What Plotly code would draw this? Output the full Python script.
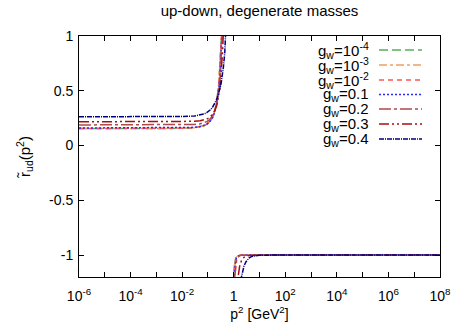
import plotly.graph_objects as go

# ---------------- data ----------------
series_labels = ["g<sub>w</sub>=10<sup>-4</sup>", "g<sub>w</sub>=10<sup>-3</sup>",
                 "g<sub>w</sub>=10<sup>-2</sup>", "g<sub>w</sub>=0.1",
                 "g<sub>w</sub>=0.2", "g<sub>w</sub>=0.3", "g<sub>w</sub>=0.4"]

# branch below the pole (p^2 in GeV^2)
p2_low = [1e-6, 1e-3, 0.01, 0.03, 0.05, 0.07, 0.09, 0.11, 0.13, 0.15, 0.17, 0.19,
          0.21, 0.23, 0.25, 0.27, 0.29, 0.31, 0.33, 0.35, 0.37, 0.40, 0.45, 0.50, 0.55]
# branch above the pole
p2_high = [0.9, 0.95, 1.0, 1.05, 1.1, 1.2, 1.3, 1.4, 1.5, 1.7, 2.0, 2.5, 3, 4, 5, 7,
           10, 30, 100, 1e3, 1e4, 1e6, 1e8]

r_low_g1e4 = [0.155, 0.155, 0.157, 0.162, 0.170, 0.180, 0.193, 0.210, 0.232, 0.258, 0.29, 0.33,
              0.38, 0.44, 0.51, 0.59, 0.69, 0.80, 0.93, 1.08, 1.26, 1.6, 2.2, 3.0, 4.0]
r_low_g1e3 = [0.155, 0.155, 0.157, 0.162, 0.170, 0.180, 0.193, 0.210, 0.232, 0.258, 0.29, 0.33,
              0.38, 0.44, 0.51, 0.59, 0.69, 0.80, 0.93, 1.08, 1.26, 1.6, 2.2, 3.0, 4.0]
r_low_g1e2 = [0.156, 0.156, 0.158, 0.163, 0.171, 0.181, 0.194, 0.211, 0.232, 0.258, 0.29, 0.33,
              0.38, 0.44, 0.51, 0.59, 0.69, 0.80, 0.93, 1.08, 1.26, 1.6, 2.2, 3.0, 4.0]
r_low_g01 = [0.160, 0.160, 0.162, 0.166, 0.173, 0.182, 0.194, 0.209, 0.229, 0.252, 0.28, 0.315,
             0.36, 0.41, 0.47, 0.54, 0.63, 0.73, 0.85, 0.98, 1.14, 1.45, 2.0, 2.8, 3.8]
r_low_g02 = [0.188, 0.188, 0.189, 0.193, 0.199, 0.207, 0.218, 0.232, 0.250, 0.270, 0.295, 0.325,
             0.36, 0.405, 0.46, 0.52, 0.59, 0.68, 0.78, 0.90, 1.04, 1.30, 1.8, 2.5, 3.5]
r_low_g03 = [0.217, 0.217, 0.218, 0.221, 0.226, 0.233, 0.242, 0.253, 0.267, 0.283, 0.302, 0.325,
             0.352, 0.385, 0.425, 0.47, 0.525, 0.59, 0.665, 0.755, 0.86, 1.05, 1.45, 2.0, 3.0]
r_low_g04 = [0.263, 0.263, 0.265, 0.270, 0.278, 0.288, 0.300, 0.314, 0.330, 0.348, 0.368, 0.39,
             0.413, 0.437, 0.462, 0.488, 0.515, 0.545, 0.578, 0.615, 0.655, 0.72, 0.85, 1.02, 1.3]

r_high_g1e4 = [-3.0, -1.6, -1.2, -1.11, -1.065, -1.03, -1.016, -1.009, -1.005, -1.002, -1.001, -1.0,
               -1.0, -1.0, -1.0, -1.0, -1.0, -1.0, -1.0, -1.0, -1.0, -1.0, -1.0]
r_high_g1e3 = [-3.0, -1.6, -1.2, -1.11, -1.065, -1.03, -1.016, -1.009, -1.005, -1.002, -1.001, -1.0,
               -1.0, -1.0, -1.0, -1.0, -1.0, -1.0, -1.0, -1.0, -1.0, -1.0, -1.0]
r_high_g1e2 = [-3.2, -1.65, -1.22, -1.12, -1.07, -1.032, -1.017, -1.009, -1.005, -1.002, -1.001, -1.0,
               -1.0, -1.0, -1.0, -1.0, -1.0, -1.0, -1.0, -1.0, -1.0, -1.0, -1.0]
r_high_g01 = [-4.0, -2.0, -1.3, -1.19, -1.10, -1.045, -1.024, -1.013, -1.008, -1.003, -1.001, -1.0,
              -1.0, -1.0, -1.0, -1.0, -1.0, -1.0, -1.0, -1.0, -1.0, -1.0, -1.0]
r_high_g02 = [-6.0, -3.0, -1.7, -1.35, -1.2, -1.085, -1.045, -1.025, -1.015, -1.006, -1.002, -1.001,
              -1.0, -1.0, -1.0, -1.0, -1.0, -1.0, -1.0, -1.0, -1.0, -1.0, -1.0]
r_high_g03 = [-10.0, -8.0, -5.0, -3.0, -2.2, -1.6, -1.35, -1.25, -1.19, -1.10, -1.05, -1.02,
              -1.01, -1.004, -1.002, -1.001, -1.0, -1.0, -1.0, -1.0, -1.0, -1.0, -1.0]
r_high_g04 = [-20.0, -15.0, -10.0, -6.0, -4.5, -3.0, -2.2, -1.8, -1.55, -1.35, -1.2, -1.1,
              -1.06, -1.025, -1.012, -1.005, -1.002, -1.0, -1.0, -1.0, -1.0, -1.0, -1.0]

low_branches = [r_low_g1e4, r_low_g1e3, r_low_g1e2, r_low_g01, r_low_g02, r_low_g03, r_low_g04]
high_branches = [r_high_g1e4, r_high_g1e3, r_high_g1e2, r_high_g01, r_high_g02, r_high_g03, r_high_g04]

x_tick_vals = [10.0 ** k for k in range(-6, 9)]
x_tick_text = ["10<sup>-6</sup>", "", "10<sup>-4</sup>", "", "10<sup>-2</sup>", "", "1", "",
               "10<sup>2</sup>", "", "10<sup>4</sup>", "", "10<sup>6</sup>", "", "10<sup>8</sup>"]
y_tick_vals = [-1, -0.5, 0, 0.5, 1]
y_tick_text = ["-1", "-0.5", "0", "0.5", "1"]

# ---------------- styles ----------------
colors = ["#55b055", "#f0a060", "#ff5555", "#2a2aff", "#b04a4a", "#a81010", "#000080"]
dashes = ["9px,4px", "8px,3px,3px,3px", "5px,4px", "2px,2px", "12px,3px,3px,3px",
          "10px,3px,2px,3px,2px,3px", "5px,1px,1px,1px"]

FONT = "Liberation Sans, Arial, Helvetica, sans-serif"

fig = go.Figure()
for i in range(len(series_labels)):
    xs = list(p2_low) + [None] + list(p2_high)
    ys = list(low_branches[i]) + [None] + list(high_branches[i])
    fig.add_trace(go.Scatter(x=xs, y=ys, mode="lines", name=series_labels[i],
                             connectgaps=False, showlegend=False,
                             line=dict(color=colors[i], width=1.5, dash=dashes[i])))

# gnuplot-style legend: text right-aligned, sample to its right
L, R, T, B = 79, 12, 36, 47
W, H = 452 - L - R, 324 - T - B
row_px = [50, 65, 80, 94.5, 109, 124, 139]
for i, lab in enumerate(series_labels):
    yp = 1 - (row_px[i] - T) / H
    fig.add_annotation(x=(371 - L) / W, y=yp, xref="paper", yref="paper", text=lab,
                       showarrow=False, xanchor="right", yanchor="middle",
                       font=dict(family=FONT, size=15, color="black"))
    fig.add_shape(type="line", xref="paper", yref="paper",
                  x0=(379 - L) / W, x1=(422 - L) / W, y0=yp, y1=yp,
                  line=dict(color=colors[i], width=1.5, dash=dashes[i]))

fig.update_layout(
    width=452, height=324,
    margin=dict(l=L, r=R, t=T, b=B),
    paper_bgcolor="white", plot_bgcolor="white",
    font=dict(family=FONT, size=14, color="black"),
    title=dict(text="up-down, degenerate masses", x=(L + W / 2) / 452, xanchor="center",
               y=1 - 11 / 324, yanchor="middle", font=dict(size=15)),
    showlegend=False,
)
fig.update_xaxes(type="log", range=[-6, 8], tickvals=x_tick_vals, ticktext=x_tick_text,
                 ticks="inside", ticklen=5, tickcolor="black", showline=True,
                 linecolor="black", linewidth=1, mirror="ticks", showgrid=False,
                 zeroline=False, tickfont=dict(size=14), ticklabelstandoff=6,
                 automargin=False,
                 title=dict(text="p<sup>2</sup> [GeV<sup>2</sup>]", standoff=2, font=dict(size=14)))
fig.update_yaxes(range=[-1.2, 1], tickvals=y_tick_vals, ticktext=y_tick_text,
                 ticks="inside", ticklen=5, tickcolor="black", showline=True,
                 linecolor="black", linewidth=1, mirror="ticks", showgrid=False,
                 zeroline=False, tickfont=dict(size=14), ticklabelstandoff=2,
                 automargin=False,
                 title=dict(text="r\u0303<sub>ud</sub>(p<sup>2</sup>)", standoff=14, font=dict(size=15)))

fig.write_html("out.html")
